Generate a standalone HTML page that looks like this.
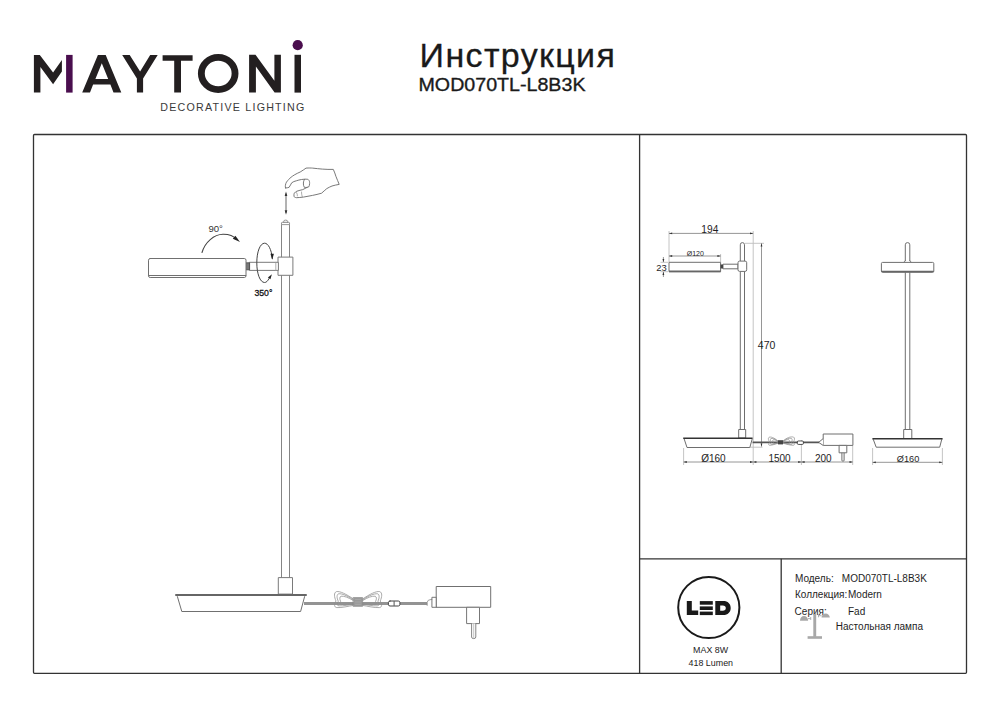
<!DOCTYPE html>
<html><head><meta charset="utf-8">
<style>
html,body{margin:0;padding:0;background:#fff;}
body{width:1000px;height:707px;overflow:hidden;position:relative;font-family:"Liberation Sans",sans-serif;}
svg{position:absolute;left:0;top:0;}
text{font-family:"Liberation Sans",sans-serif;}
</style></head>
<body>
<svg width="1000" height="707" viewBox="0 0 1000 707">
<!-- LOGO -->
<g id="logo" fill="#231f20">
  <path d="M33.9 54.9H39.8L53.1 72.5L61.9 60.1V71.5L53.1 84.2L40.4 66.9V92.6H33.9Z"/>
  <rect x="66.1" y="54.9" width="6.5" height="37.7" fill="#4a0e4e"/>
  <path fill-rule="evenodd" d="M82.2 92.6L97.9 54.9H105.7L121.3 92.6H113.5L110.4 84.6H93.1L90 92.6Z M101.8 63.3L108.2 78.9H95.4Z"/>
  <path d="M122.2 55.1H129.7L140.1 71.5L150.2 55.1H157.7L143.1 78.6V92.6H136.9V78.6Z"/>
  <path d="M162.6 55.2H192.6V60.8H181V92.4H174.2V60.8H162.6Z"/>
  <ellipse cx="218.2" cy="73.5" rx="16.85" ry="16.1" fill="none" stroke="#231f20" stroke-width="6.85"/>
  <path d="M249.1 54.8H255.5L274.4 80.7V54.8H280.9V92.6H274.6L255.9 66.5V92.6H249.1Z"/>
  <rect x="294.5" y="54.8" width="6.5" height="37.8"/>
  <circle cx="297.7" cy="45.2" r="5.1" fill="#4a0e4e"/>
</g>
<text x="160.3" y="110.6" font-size="10.7" fill="#3a3a3a" textLength="144" lengthAdjust="spacing">DECORATIVE LIGHTING</text>

<!-- HEADER -->
<text x="419.6" y="67.1" font-size="34" fill="#1a1a1a" stroke="#1a1a1a" stroke-width="0.3" textLength="195.3" lengthAdjust="spacing">Инструкция</text>
<text x="418.5" y="91.1" font-size="18.4" fill="#1a1a1a" stroke="#1a1a1a" stroke-width="0.35" textLength="167" lengthAdjust="spacingAndGlyphs">MOD070TL-L8B3K</text>


<!-- LEFT DRAWING -->
<g fill="none" stroke="#7a7a7a" stroke-width="1" stroke-linejoin="round" stroke-linecap="round">
  <!-- hand -->
  <path stroke="#6a6a6a" stroke-width="0.9" d="M285.5 188C285 186.5 285.4 184 286.5 182.1C288 180 289.5 178.5 291 177.3C293 175.6 296 173.8 300.2 172C302.5 170.8 304.5 169 306 168.1C309 167.9 311 168 312.5 168.1C316 168.5 319 168.8 322.3 169.1C326 169.4 330 169.5 333.3 169.4C334.5 172 335.2 174 335.9 176.3C337 179 338.2 182 339.2 184.4C336.5 184.9 334 185.3 332 186C330 186.8 328.5 187.6 326.8 188.6C325 190 323.2 191.8 321.6 193.2C318.5 194.1 315.5 194.8 312.5 195.4C309.5 196 306.5 196.6 303.4 197.1C301 197.4 298.5 197.6 296.3 197.7C295 197.5 294.2 197 294 196.4C293.8 195 294 194 294.3 193.2C295 192.2 296 191.6 296.9 191.2C299 190.5 301 190 302.8 189.6C304.5 188.8 306 188 307.3 187.3"/>
  <path stroke="#6a6a6a" stroke-width="0.9" d="M285.5 188C286.8 187.9 288 187.7 289.1 187.3C290.2 185.8 290.9 184 291.7 182.8C293 181.8 294.6 181.2 296.3 180.8C298 180.2 299.8 179.8 301.5 179.5C302.6 179.3 303.7 179.2 304.7 179.2C306.3 179.2 307.8 179.2 308.2 179.5C309.5 180.6 309.7 182 309.6 183.5C309.5 185 309.3 186.3 308.6 187C307 187.6 305.4 187.5 304.3 187.3C303.5 186 303.3 184.5 303.4 183C303.5 181.5 303.9 180.1 304.7 179.2"/>
  <path stroke="#8a8a8a" stroke-width="0.7" d="M296.6 192.6C297.2 193.6 297.5 194.8 297.4 195.9M301.5 192C301.5 193.5 301.7 195 302.2 196.6"/>
  <!-- up/down arrow -->
  <line x1="286" y1="194" x2="286" y2="212.5" stroke="#555" stroke-width="0.9"/>
  <path d="M286 191.6L287.3 196H284.7Z M286 214.7L287.3 210.3H284.7Z" fill="#333" stroke="none"/>
  <!-- pole -->
  <path d="M281.5 577.6V223.2Q281.5 222.3 282.4 222.3H288.6Q289.5 222.3 289.5 223.2V577.6" stroke="#858585"/>
  <line x1="281.5" y1="224.6" x2="289.5" y2="224.6" stroke="#999"/>
  <path d="M283.7 222.3V221.4Q283.7 220.1 285.65 220.1Q287.6 220.1 287.6 221.4V222.3" stroke="#888" stroke-width="0.9"/>
  <!-- clamp block -->
  <rect x="278.4" y="257.1" width="14.5" height="18.2" fill="#fff" stroke="#7a7a7a"/>
  <!-- arm -->
  <rect x="249.7" y="262.3" width="28.7" height="8.1" fill="#fff" stroke="#7a7a7a"/>
  <line x1="275.8" y1="262.3" x2="275.8" y2="270.4" stroke="#999" stroke-width="0.8"/>
  <!-- connector -->
  <rect x="246" y="262.8" width="3.6" height="7" fill="#777" stroke="#444" stroke-width="0.8"/>
  <!-- head -->
  <path d="M150.2 258.5H244.3Q246 258.5 246 260.2V275.8Q246 277.5 244.3 277.5H150.2Q148.5 277.5 148.5 275.8V260.2Q148.5 258.5 150.2 258.5Z" fill="#fff" stroke="#707070"/>
  <line x1="148.7" y1="275.5" x2="245.8" y2="275.5" stroke="#707070"/>
  <!-- 90 deg arc -->
  <path d="M202 252.5C205 242 214 234.5 223 234.3C229 234.2 234 236.5 236.5 239.5" stroke="#444" stroke-width="1.05"/>
  <path d="M240 242L232.8 238.7L235.4 235.8Z" fill="#222" stroke="none"/>
  <!-- 350 ellipse arrow -->
  <path d="M272.3 258.5C271.5 249 268 243.2 264.6 243.2C260 243.2 256.8 252 256.8 262.8C256.8 273.6 260 282.5 264.6 282.5C266.3 282.5 267.6 281.2 269 278.6" stroke="#444" stroke-width="1"/>
  <path d="M272.2 259.8L270.5 253.8L273.9 253.8Z" fill="#222" stroke="none"/>
  <path d="M271.9 274.2L270.4 279.3L267.9 277.6Z" fill="#222" stroke="none"/>
  <!-- base collar -->
  <rect x="278.7" y="577.6" width="13.8" height="16.5" fill="#fff" stroke="#7a7a7a"/>
  <!-- base -->
  <path d="M177.4 596.6L181.8 611.5H300.6L304.6 596.6" stroke="#707070"/>
  <line x1="176" y1="595" x2="306" y2="595" stroke="#666" stroke-width="2"/>
  <!-- cable -->
  <rect x="304" y="602" width="123.5" height="3" fill="#939393" stroke="none"/>
  <!-- coiled bow -->
  <g stroke="#8e8e8e" stroke-width="0.75" fill="none">
    <path d="M353.5 599C346 594 340 591 336.5 591.6C333.6 592.6 334.2 597 336 601C334 604 334 607.4 336.8 607.6C342 607.9 348 606.2 353.5 605.4"/>
    <path d="M353.5 599.8C347 595.6 342 593.4 338.6 593.8C336.4 594.6 336.8 598.2 338.3 601.2C336.7 603.6 336.8 605.8 339 605.9C343.5 606 348.5 604.9 353.5 604.5"/>
    <path d="M353.5 600.6C348 597.3 344 595.9 341 596.2C339.4 596.8 339.6 599.4 340.6 601.4C339.6 603 339.8 604.3 341.4 604.3C345 604.3 349 603.8 353.5 603.6"/>
    <path d="M362.6 599C370 594 376 591 379.7 591.6C382.6 592.6 382 597 380.2 601C382.2 604 382.2 607.4 379.4 607.6C374 607.9 368 606.2 362.6 605.4"/>
    <path d="M362.6 599.8C369 595.6 374 593.4 377.6 593.8C379.8 594.6 379.4 598.2 377.9 601.2C379.5 603.6 379.4 605.8 377.2 605.9C372.7 606 367.7 604.9 362.6 604.5"/>
    <path d="M362.6 600.6C368 597.3 372 595.9 375.2 596.2C376.8 596.8 376.6 599.4 375.6 601.4C376.6 603 376.4 604.3 374.8 604.3C371.2 604.3 367.2 603.8 362.6 603.6"/>
  </g>
  <rect x="353.4" y="597.5" width="9.2" height="8.9" fill="#9a9a9a" stroke="#888" stroke-width="0.6"/>
  <path d="M355.5 599.5H360.5M355.5 602H360.5M355.5 604.3H360.5" stroke="#b0b0b0" stroke-width="0.6"/>
  <!-- inline connector -->
  <rect x="388.4" y="601" width="11.5" height="5" rx="1.6" fill="#fff" stroke="#444" stroke-width="1"/>
  <line x1="394.1" y1="601.5" x2="394.1" y2="605.5" stroke="#555" stroke-width="1"/>
  <!-- adapter -->
  <path d="M427.2 605.4V602.2Q427.6 599.6 431 599.5H432.3" fill="#fff" stroke="#888" stroke-width="0.8"/>
  <rect x="432.3" y="597.3" width="4.3" height="10" fill="#fff" stroke="#777"/>
  <rect x="436.6" y="586.5" width="54.1" height="20.8" fill="#fff" stroke="#707070"/>
  <rect x="467" y="607.3" width="12.5" height="16.3" fill="#fff" stroke="#777"/>
  <path d="M471.6 623.6V637Q471.6 638.6 473.7 638.6Q475.8 638.6 475.8 637V623.6" fill="#fff" stroke="#777" stroke-width="0.9"/>
  <line x1="473.7" y1="624" x2="473.7" y2="637.5" stroke="#aaa" stroke-width="0.7"/>
</g>
<text x="208.4" y="231.9" font-size="9.6" fill="#333">90°</text>
<text x="254.4" y="296.2" font-size="9.6" fill="#111" stroke="#111" stroke-width="0.3" textLength="18" lengthAdjust="spacingAndGlyphs">350°</text>


<!-- RIGHT DRAWING: side view -->
<g fill="none" stroke-width="1" stroke-linejoin="round">
  <!-- extension lines (light) -->
  <g stroke="#bdbdbd" stroke-width="0.9">
    <line x1="669" y1="231" x2="669" y2="262"/>
    <line x1="753.2" y1="231" x2="753.2" y2="465"/>
    <line x1="720.6" y1="254" x2="720.6" y2="262"/>
    <line x1="683.6" y1="448" x2="683.6" y2="465"/>
    <line x1="801.4" y1="440" x2="801.4" y2="465"/>
    <line x1="852.7" y1="446" x2="852.7" y2="465"/>
    <line x1="660.5" y1="262.3" x2="668" y2="262.3"/>
    <line x1="660.5" y1="271.7" x2="668" y2="271.7"/>
    <line x1="745" y1="243.3" x2="764" y2="243.3"/>
    <line x1="750" y1="447.2" x2="762.5" y2="447.2"/>
    <line x1="872.6" y1="448" x2="872.6" y2="465"/>
    <line x1="942.4" y1="448" x2="942.4" y2="465"/>
  </g>
  <!-- dimension lines -->
  <g stroke="#8a8a8a" stroke-width="0.9">
    <line x1="669" y1="233.4" x2="753.2" y2="233.4"/>
    <line x1="669" y1="256" x2="720.6" y2="256"/>
    <line x1="663.4" y1="257" x2="663.4" y2="262"/>
    <line x1="663.4" y1="272" x2="663.4" y2="277"/>
    <line x1="761.5" y1="243.3" x2="761.5" y2="446.6"/>
    <line x1="683.6" y1="462" x2="852.7" y2="462"/>
    <line x1="872.6" y1="462.3" x2="942.4" y2="462.3"/>
  </g>
  <g fill="#333" stroke="none">
    <path d="M669 233.4l3.2-0.9v1.8z M753.2 233.4l-3.2-0.9v1.8z"/>
    <path d="M669 256l3.2-0.9v1.8z M720.6 256l-3.2-0.9v1.8z"/>
    <path d="M663.4 262.3l-0.9-3.2h1.8z M663.4 271.7l-0.9 3.2h1.8z"/>
    <path d="M761.5 243.3l-0.9 3.2h1.8z M761.5 446.6l-0.9-3.2h1.8z"/>
    <path d="M683.6 462l3.2-0.9v1.8z M753.2 462l-3.2-0.9v1.8z M753.2 462l3.2-0.9v1.8z M801.4 462l-3.2-0.9v1.8z M801.4 462l3.2-0.9v1.8z M852.7 462l-3.2-0.9v1.8z"/>
    <path d="M872.6 462.3l3.2-0.9v1.8z M942.4 462.3l-3.2-0.9v1.8z"/>
  </g>
  <!-- lamp side view -->
  <g stroke="#6e6e6e">
    <path d="M740.3 261.1V244.8Q740.3 242.6 742.4 242.6Q744.5 242.6 744.5 244.8V261.1"/>
    <path d="M740.3 271.4V429.5M744.5 271.4V429.5"/>
    <rect x="669" y="262.3" width="51.6" height="9.4" fill="#fff"/>
    <rect x="723" y="264.2" width="15" height="4.6" fill="#fff"/>
    <rect x="738" y="261.1" width="8.7" height="10.3" rx="1.6" fill="#fff"/>
    <rect x="738.7" y="429.5" width="7" height="8.5" fill="#fff"/>
    <path d="M684.2 439L687 447.5H749.8L752.2 439"/>
    <!-- adapter -->
    <rect x="823.2" y="434" width="29.7" height="11.4" fill="#fff"/>
    <rect x="839.1" y="445.4" width="7.7" height="7.4" fill="#fff"/>
    <path d="M841.9 452.8V460.4Q841.9 461.1 843 461.1Q844.1 461.1 844.1 460.4V452.8"/>
    <path d="M823.2 438.6L818.6 442.4L823.2 445.4" fill="#fff"/>
  </g>
  <line x1="669" y1="271.3" x2="720.6" y2="271.3" stroke="#666" stroke-width="1.7"/>
  <rect x="720.6" y="264.5" width="2.4" height="4" fill="#444" stroke="none"/>
  <line x1="683.2" y1="438.3" x2="752.6" y2="438.3" stroke="#333" stroke-width="1.5"/>
  <!-- cable -->
  <line x1="752.6" y1="442.4" x2="819" y2="442.4" stroke="#555" stroke-width="1.6"/>
  <g stroke="#8c8c8c" stroke-width="0.7" fill="none">
    <path d="M778 441C774 437.5 770.5 436.5 769 437.3C767.8 438.3 768.5 440.5 769.8 442.3C768.3 443.8 768.3 445.2 769.6 445.3C771.8 445.4 775 444.2 778 443.2"/>
    <path d="M778 441.4C775 438.8 772 437.9 770.8 438.6C770 439.4 770.5 441 771.5 442.3C770.3 443.4 770.4 444.4 771.4 444.4C773.5 444.4 775.8 443.6 778 442.9"/>
    <path d="M778 441.8C776 440 774 439.4 773 439.9C772.4 440.5 772.8 441.5 773.4 442.3C772.8 443 772.9 443.6 773.5 443.6C775 443.6 776.5 443.1 778 442.7"/>
    <path d="M783 441C787 437.5 790.5 436.5 793.5 437C795.2 437.8 794.5 440.5 793.2 442.3C794.7 443.8 794.7 445.2 793.4 445.3C791.2 445.4 786 444.2 783 443.2"/>
    <path d="M783 441.4C786 438.8 789.5 437.9 791.5 438.4C792.6 439.2 792.2 441 791.4 442.3C792.5 443.4 792.4 444.4 791.4 444.4C789.4 444.4 785.5 443.6 783 442.9"/>
    <path d="M783 441.8C785 440 787.5 439.4 789 439.8C789.8 440.4 789.6 441.5 789.2 442.3C789.8 443 789.7 443.6 789 443.6C787.5 443.6 784.8 443.1 783 442.7"/>
  </g>
  <rect x="778" y="440.2" width="5" height="4.2" fill="#444" stroke="none"/>
  <rect x="797.3" y="441" width="6.1" height="3.4" rx="1" fill="#fff" stroke="#333" stroke-width="0.9"/>
  <rect x="799.3" y="441.8" width="2.2" height="1.8" fill="#fff" stroke="none"/>
</g>
<!-- front view -->
<g fill="none" stroke="#6e6e6e" stroke-width="1" stroke-linejoin="round">
  <path d="M905.3 261V244.8Q905.3 242.6 907.55 242.6Q909.8 242.6 909.8 244.8V261"/>
  <path d="M903.5 262.4Q905.3 261.5 905.3 260.5M911.6 262.4Q909.8 261.5 909.8 260.5"/>
  <rect x="881.4" y="262.4" width="52.4" height="9.9" rx="1.2" fill="#fff"/>
  <path d="M905.3 272.3V429.5M909.8 272.3V429.5"/>
  <rect x="903.7" y="429.5" width="8.1" height="9" fill="#fff"/>
  <path d="M873.2 439.2L876.2 447.2H939.7L941.8 439.2"/>
</g>
<line x1="881.6" y1="271.5" x2="933.6" y2="271.5" stroke="#666" stroke-width="1.7"/>
<line x1="872.4" y1="438.7" x2="942.6" y2="438.7" stroke="#333" stroke-width="1.5"/>
<g fill="#1e1e1e">
  <text x="701.3" y="232.8" font-size="10.2">194</text>
  <text x="686.7" y="255.7" font-size="7">Ø120</text>
  <text x="656.2" y="270.7" font-size="9.4">23</text>
  <text x="757.8" y="348.5" font-size="10.5">470</text>
  <text x="701.2" y="462.2" font-size="10">Ø160</text>
  <text x="768.4" y="462.2" font-size="10">1500</text>
  <text x="815" y="462.2" font-size="10">200</text>
  <text x="896.8" y="462.2" font-size="9.2">Ø160</text>
</g>


<!-- LED panel -->
<circle cx="708.8" cy="607.5" r="30.6" fill="none" stroke="#1a1a1a" stroke-width="2"/>
<g fill="#1a1a1a">
  <path d="M686.8 601.1H691.8V610.6H698.2V615.1H686.8Z"/>
  <rect x="699.8" y="601.1" width="13" height="3.6"/>
  <rect x="699.8" y="606.4" width="13" height="3.6"/>
  <rect x="699.8" y="611.6" width="13" height="3.5"/>
  <path fill-rule="evenodd" d="M715.3 601.1H723.3C727.8 601.1 730.7 603.8 730.7 608.1C730.7 612.4 727.8 615.1 723.3 615.1H715.3Z M720.2 605.4V610.8H722.8C724.7 610.8 725.8 609.8 725.8 608.1C725.8 606.4 724.7 605.4 722.8 605.4Z"/>
</g>
<text x="693.1" y="652.9" font-size="8.9" fill="#222">MAX 8W</text>
<text x="688.6" y="666" font-size="8.9" fill="#222">418 Lumen</text>
<!-- info text -->
<g font-size="10" fill="#1e1e1e">
  <text x="795" y="582">Модель:</text>
  <text x="841.8" y="582">MOD070TL-L8B3K</text>
  <text x="795" y="598.3">Коллекция:</text>
  <text x="848" y="598.3">Modern</text>
  <text x="794.6" y="614.8">Серия:</text>
  <text x="848" y="614.8">Fad</text>
  <text x="835.8" y="630.3">Настольная лампа</text>
</g>
<!-- table lamp icon -->
<g fill="#a8a8a8">
  <rect x="813.3" y="613.9" width="2.9" height="23"/>
  <rect x="807.6" y="636.2" width="14.4" height="2.6"/>
  <path d="M800 620.7C800 618 801.8 616 804 616C806.2 616 808.1 618 808.1 620.7Z"/>
  <rect x="808" y="618.2" width="2.7" height="0.9"/>
  <rect x="810.3" y="617" width="0.9" height="3"/>
  <path d="M821.5 617.6C821.5 615.2 823.5 613.4 825.6 613.4C827.8 613.4 829.8 615.2 829.8 617.6Z"/>
  <rect x="818" y="615.3" width="3.6" height="0.9"/>
  <rect x="818" y="614.3" width="0.9" height="3"/>
</g>

<!-- FRAME -->
<g fill="none" stroke="#333" stroke-width="1.3">
  <rect x="33.5" y="134.5" width="933" height="538.8" rx="1"/>
  <line x1="639.6" y1="134.5" x2="639.6" y2="673.3"/>
  <line x1="639.6" y1="558.8" x2="966.5" y2="558.8"/>
  <line x1="781.2" y1="558.8" x2="781.2" y2="673.3"/>
</g>
</svg>
</body></html>
